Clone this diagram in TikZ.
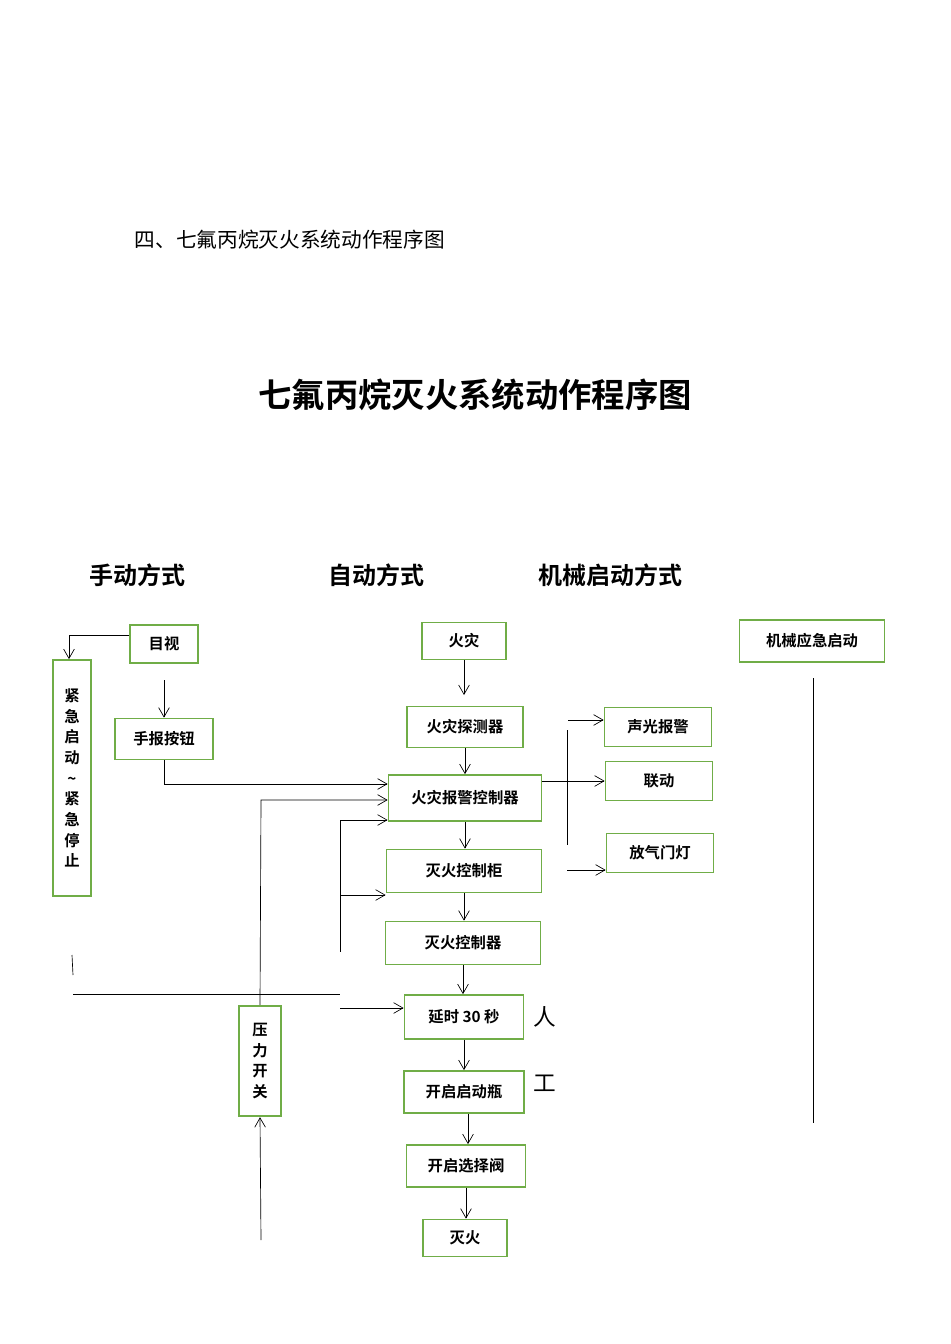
\documentclass[tikz,border=0pt]{standalone}
\usepackage{fontspec}
\setmainfont{Noto Sans CJK SC}
\newfontfamily\cjkb{Noto Sans CJK SC Bold}
\usetikzlibrary{arrows.meta}
\definecolor{gr}{RGB}{112,173,71}
\begin{document}
\begin{tikzpicture}[x=0.75pt,y=-0.75pt,
 bx/.style={draw=gr,line width=1.3pt,font=\cjkb\fontsize{11.5}{13}\selectfont,inner sep=0pt},
 ar/.style={-{Straight Barb[length=7pt,width=8pt]},line width=0.5pt},
 ln/.style={line width=0.5pt},
 hd/.style={font=\cjkb\fontsize{18}{20}\selectfont}]
\useasboundingbox[fill=white] (0,0) rectangle (950,1344);
\node[anchor=west,font=\fontsize{15.5}{18}\selectfont] (top) at (130,240) {四、七氟丙烷灭火系统动作程序图};
\node[font=\cjkb\fontsize{25}{28}\selectfont] (title) at (475,395) {七氟丙烷灭火系统动作程序图};
\node[hd] (h1) at (137,575) {手动方式};
\node[hd] (h2) at (376,575) {自动方式};
\node[hd] (h3) at (610,575) {机械启动方式};
\newcommand\bxn[6]{\node[bx,minimum width=#4*0.75pt,minimum height=#5*0.75pt] (#1) at (#2,#3) {#6};}
\bxn{mushi}{164}{644}{68}{38}{目视}
\node[bx,minimum width=28.5pt,minimum height=177pt,align=center,font=\cjkb\fontsize{11.5}{15.5}\selectfont] (jj) at (72,778) {紧\\急\\启\\动\\\textasciitilde\\紧\\急\\停\\止};
\bxn{shoubao}{164}{739}{98}{41}{手报按钮}
\bxn{huozai}{464}{641}{84}{37}{火灾}
\bxn{tance}{465}{727}{116}{41}{火灾探测器}
\bxn{baojing}{465}{798}{153}{46}{火灾报警控制器}
\bxn{gui}{464}{871}{155}{43}{灭火控制柜}
\bxn{kzq}{463}{943}{155}{43}{灭火控制器}
\bxn{yanshi}{464}{1017}{119}{44}{延时 30 秒}
\bxn{ping}{464}{1092}{120}{42}{开启启动瓶}
\bxn{fa}{466}{1166}{119}{42}{开启选择阀}
\bxn{mie}{465}{1238}{84}{37}{灭火}
\node[bx,minimum width=31.5pt,minimum height=83pt,align=center,font=\cjkb\fontsize{11.5}{15.5}\selectfont] (yali) at (260,1061) {压\\力\\开\\关};
\bxn{sg}{658}{727}{107}{39}{声光报警}
\bxn{ld}{659}{781}{107}{39}{联动}
\bxn{fq}{660}{853}{107}{39}{放气门灯}
\bxn{jx}{812}{641}{145}{42}{机械应急启动}
\node[font=\fontsize{17}{19}\selectfont] (ren) at (545,1017) {人};
\node[font=\fontsize{17}{19}\selectfont] (gong) at (545,1083) {工};
% left
\coordinate (c1) at (69,635);
\draw[ar] (mushi.west |- c1) -- (c1) -- (jj.north -| c1);
\coordinate (c2) at (164,680);
\draw[ar] (c2) -- (shoubao.north);
\coordinate (c3) at (164,784);
\draw[ar] (shoubao.south) -- (c3) -- (c3 -| baojing.west);
\coordinate (c4) at (261,800);
\draw[ar] (yali.north) -- (c4) -- (c4 -| baojing.west);
\coordinate (c5) at (340,820); \coordinate (c6) at (340,952);
\draw[ln] (c5) -- (c6);
\draw[ar] (c5) -- (c5 -| baojing.west);
\coordinate (c7) at (340,895);
\draw[ar] (c7) -- (c7 -| gui.west);
\coordinate (t1) at (72,955); \coordinate (t2) at (73,975);
\draw[ln] (t1) -- (t2);
\coordinate (c8) at (73,994); \coordinate (c9) at (340,994);
\draw[ln] (c8) -- (c9);
\coordinate (c10) at (340,1008);
\draw[ar] (c10) -- (c10 -| yanshi.west);
\coordinate (c11) at (261,1240);
\draw[ar] (c11) -- (yali.south);
% chain
\coordinate (h0) at (464,695);
\draw[ar] (huozai.south) -- (h0);
\draw[ar] (tance.south) -- (tance.south |- baojing.north);
\draw[ar] (baojing.south) -- (baojing.south |- gui.north);
\draw[ar] (gui.south) -- (gui.south |- kzq.north);
\draw[ar] (kzq.south) -- (kzq.south |- yanshi.north);
\draw[ar] (yanshi.south) -- (yanshi.south |- ping.north);
\draw[ar] ([xshift=3pt]ping.south) -- ([xshift=3pt]ping.south |- fa.north);
\draw[ar] (fa.south) -- (fa.south |- mie.north);
% right
\coordinate (r1) at (567,730); \coordinate (r2) at (567,845);
\draw[ln] (r1) -- (r2);
\coordinate (r3) at (568,720);
\draw[ar] (r3) -- (r3 -| sg.west);
\draw[ar] (baojing.east |- ld) -- (ld.west);
\coordinate (r4) at (567,870);
\draw[ar] (r4) -- (r4 -| fq.west);
\coordinate (m1) at (813,678); \coordinate (m2) at (813,1123);
\draw[ln] (m1) -- (m2);
\end{tikzpicture}
\end{document}
